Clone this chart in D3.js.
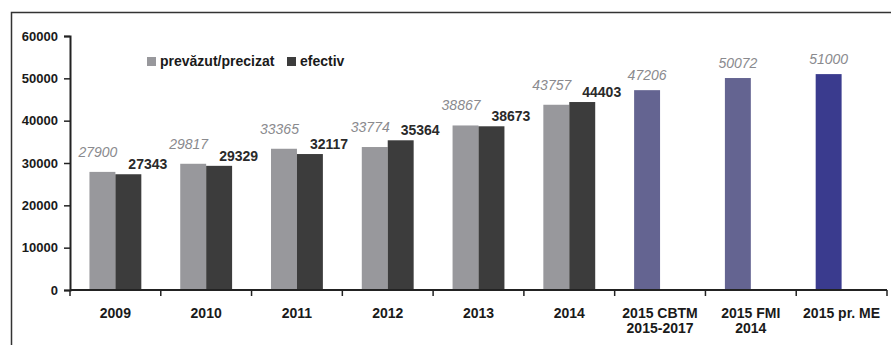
<!DOCTYPE html>
<html>
<head>
<meta charset="utf-8">
<script src="https://cdn.jsdelivr.net/npm/d3@7"></script>
<style>
  html, body { margin: 0; padding: 0; background: #fff; }
  svg { display: block; font-family: "Liberation Sans", Arial, sans-serif; }
</style>
</head>
<body>
<svg id="chart" width="891" height="345"></svg>
<script>
// Categories (two-line labels split on "\n")
const categories = ["2009", "2010", "2011", "2012", "2013", "2014",
  "2015 CBTM\n2015-2017", "2015 FMI\n2014", "2015 pr. ME"];
// Planned / revised values (first slot of each group)
const planned = [27900, 29817, 33365, 33774, 38867, 43757, 47206, 50072, 51000];
// Actual values (only up to 2014)
const actual = [27343, 29329, 32117, 35364, 38673, 44403, null, null, null];
// Y axis ticks
const yTicks = [0, 10000, 20000, 30000, 40000, 50000, 60000];
// Legend entries
const legendLabels = ["prevăzut/precizat", "efectiv"];

const colPlanned = "#98989c";
const colActual = "#3c3c3c";
const colForecast = "#646491";
const colMinistry = "#3a3b8e";
const plannedColors = ["p", "p", "p", "p", "p", "p", "f", "f", "m"];
const colorFor = { p: colPlanned, f: colForecast, m: colMinistry };

const svg = d3.select("#chart");

// Outer frame (top and left edges visible)
svg.append("path")
  .attr("d", "M11.5,345 L11.5,12.5 L891,12.5")
  .attr("fill", "none").attr("stroke", "#333").attr("stroke-width", 1.5);

const plotLeft = 70, plotRight = 887, plotTop = 36, plotBottom = 290;

const y = d3.scaleLinear().domain([0, 60000]).range([plotBottom, plotTop]);
const x0 = d3.scaleBand().domain(categories).range([plotLeft, plotRight]).padding(0);
const x1 = d3.scaleBand().domain(["planned", "actual"])
  .range([0, x0.bandwidth()]).paddingInner(0).paddingOuter(0.75);

// Y axis
const yAxis = svg.append("g")
  .attr("transform", `translate(${plotLeft},0)`)
  .call(d3.axisLeft(y).tickValues(yTicks).tickSize(6).tickPadding(6).tickFormat(d3.format("d")));
yAxis.select(".domain").attr("stroke", "#222").attr("stroke-width", 2);
yAxis.selectAll(".tick line").attr("stroke", "#222").attr("stroke-width", 1.5);
yAxis.selectAll(".tick text")
  .attr("font-size", 13).attr("font-weight", "bold").attr("fill", "#1a1a1a")
  .attr("font-family", "Liberation Sans, Arial, sans-serif");

// Bars: planned
const groups = svg.append("g");
groups.selectAll("rect.planned")
  .data(categories.map((c, i) => ({ c, v: planned[i], k: plannedColors[i] })))
  .join("rect")
  .attr("class", "planned")
  .attr("x", d => x0(d.c) + x1("planned"))
  .attr("width", x1.bandwidth())
  .attr("y", d => y(d.v))
  .attr("height", d => y(0) - y(d.v))
  .attr("fill", d => colorFor[d.k]);

// Bars: actual
groups.selectAll("rect.actual")
  .data(categories.map((c, i) => ({ c, v: actual[i] })).filter(d => d.v != null))
  .join("rect")
  .attr("class", "actual")
  .attr("x", d => x0(d.c) + x1("actual"))
  .attr("width", x1.bandwidth())
  .attr("y", d => y(d.v))
  .attr("height", d => y(0) - y(d.v))
  .attr("fill", colActual);

// X axis with ticks between categories
const xAxisG = svg.append("g");
xAxisG.append("line")
  .attr("x1", plotLeft).attr("x2", plotRight).attr("y1", plotBottom).attr("y2", plotBottom)
  .attr("stroke", "#222").attr("stroke-width", 2);
const bounds = categories.map(c => x0(c)).concat([plotRight]);
xAxisG.selectAll("line.tick")
  .data(bounds).join("line")
  .attr("class", "tick")
  .attr("x1", d => d).attr("x2", d => d)
  .attr("y1", plotBottom).attr("y2", plotBottom + 6)
  .attr("stroke", "#222").attr("stroke-width", 1.5);
xAxisG.selectAll("text.cat")
  .data(categories).join("text")
  .attr("class", "cat")
  .attr("y", plotBottom + 28)
  .attr("text-anchor", "middle")
  .attr("font-size", 14).attr("font-weight", "bold").attr("fill", "#1a1a1a")
  .each(function (d) {
    const t = d3.select(this);
    d.split("\n").forEach((ln, i) => {
      t.append("tspan")
        .attr("x", x0(d) + x0.bandwidth() / 2)
        .attr("dy", i === 0 ? 0 : 15)
        .text(ln);
    });
  });

// Value labels: planned (grey italic)
svg.append("g").selectAll("text")
  .data(categories.map((c, i) => ({ c, v: planned[i], single: actual[i] == null })))
  .join("text")
  .attr("x", d => d.single
    ? x0(d.c) + x1("planned") + x1.bandwidth() / 2
    : x0(d.c) + x1("planned") + x1.bandwidth() + 2)
  .attr("y", d => y(d.v) - (d.single ? 10 : 15))
  .attr("text-anchor", d => d.single ? "middle" : "end")
  .attr("font-size", 14).attr("font-style", "italic").attr("fill", "#8a8a8e")
  .text(d => d.v);

// Value labels: actual (dark bold)
svg.append("g").selectAll("text")
  .data(categories.map((c, i) => ({ c, v: actual[i] })).filter(d => d.v != null))
  .join("text")
  .attr("x", d => x0(d.c) + x1("actual") + x1.bandwidth() / 2)
  .attr("y", d => y(d.v) - 5)
  .attr("text-anchor", "start")
  .attr("font-size", 14).attr("font-weight", "bold").attr("fill", "#2a2a2a")
  .text(d => d.v);

// Legend
const legend = svg.append("g");
const legendX = [147, 287];
const legendColors = [colPlanned, colActual];
legendLabels.forEach((lab, i) => {
  legend.append("rect")
    .attr("x", legendX[i]).attr("y", 57).attr("width", 9).attr("height", 9)
    .attr("fill", legendColors[i]);
  legend.append("text")
    .attr("x", legendX[i] + 13).attr("y", 66)
    .attr("font-size", 14).attr("font-weight", "bold").attr("fill", "#1a1a1a")
    .text(lab);
});
</script>
</body>
</html>
